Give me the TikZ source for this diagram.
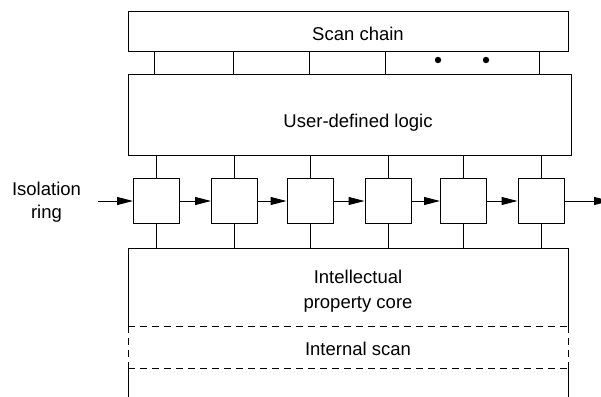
\documentclass[tikz,border=0pt]{standalone}
\usepackage{fontspec}
\setmainfont{Liberation Sans}
\usetikzlibrary{arrows.meta}
\begin{document}
\begin{tikzpicture}[x=1pt,y=-1pt,
  line width=1pt,
  blockbox/.style={draw, rectangle, inner sep=0pt},
  regbox/.style={draw, rectangle, inner sep=0pt, minimum width=46pt, minimum height=45pt},
  lbl/.style={anchor=base, inner sep=0pt, font=\fontsize{18.5}{24}\selectfont},
  flow/.style={-{Triangle[length=16pt,width=8pt]}},
  sep/.style={dash pattern=on 7pt off 5pt}]
\clip (0,0) rectangle (601,396);
\useasboundingbox (0,0) rectangle (601,396);

% scan chain and user-defined logic blocks
\node[blockbox, minimum width=440pt, minimum height=39pt] (scan) at (348,31.5) {};
\node[blockbox, minimum width=443pt, minimum height=81pt] (logic) at (349.5,114.5) {};
\node[lbl] (scantxt) at (358,41) {Scan chain};
\node[lbl] (logictxt) at (358,127) {User-defined logic};

% links between scan chain and logic
\foreach \x in {154,233,309,385,539}
  \draw (\x,0 |- scan.south) -- (\x,0 |- logic.north);
\fill (438,60) circle[radius=3.2pt] (486,60) circle[radius=3.2pt];

% isolation ring cells
\node[regbox] (r1) at (156.5,201) {};
\node[regbox] (r2) at (234.5,201) {};
\node[regbox] (r3) at (310,201) {};
\node[regbox] (r4) at (388,201) {};
\node[regbox] (r5) at (463.5,201) {};
\node[regbox] (r6) at (541,201) {};

% core area corners and internal scan band
\coordinate (ctl) at (128,248);
\coordinate (ctr) at (568,248);
\coordinate (cbl) at (128,400);
\coordinate (cbr) at (568,400);
\coordinate (stl) at (128,326);
\coordinate (str) at (568,326);
\coordinate (sbl) at (128,368);
\coordinate (sbr) at (568,368);
\coordinate (in) at (98,201);
\coordinate (out) at (610,201);

% ring links to logic and core
\foreach \r in {r1,r2,r3,r4,r5,r6} {
  \draw (\r.north) -- (\r.north |- logic.south);
  \draw (\r.south) -- (\r.south |- ctl);
}

% scan path through the ring
\draw[flow] (in) -- (r1.west);
\draw[flow] (r1.east) -- (r2.west);
\draw[flow] (r2.east) -- (r3.west);
\draw[flow] (r3.east) -- (r4.west);
\draw[flow] (r4.east) -- (r5.west);
\draw[flow] (r5.east) -- (r6.west);
\draw[flow] (r6.east) -- (out);

% core outline, open at the bottom
\draw (stl) -- (ctl) -- (ctr) -- (str);
\draw (sbl) -- (cbl);
\draw (sbr) -- (cbr);
\draw[sep] (stl) -- (str);
\draw[sep] (sbl) -- (sbr);
\draw[sep] (stl) -- (sbl);
\draw[sep] (str) -- (sbr);

\node[lbl] (coretxt1) at (358,283) {Intellectual};
\node[lbl] (coretxt2) at (358,308) {property core};
\node[lbl] (scantxt2) at (358,355) {Internal scan};

% ring label
\node[lbl] (ringtxt1) at (46.5,195) {Isolation};
\node[lbl] (ringtxt2) at (46.5,218) {ring};
\end{tikzpicture}
\end{document}
